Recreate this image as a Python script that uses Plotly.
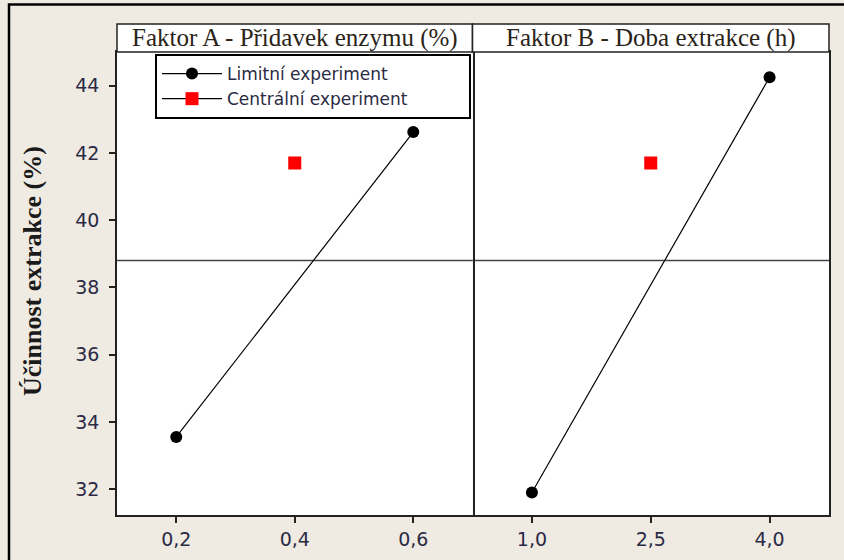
import plotly.graph_objects as go

# ---- data ----
a_levels = [0.2, 0.6]
a_means = [33.55, 42.62]
a_center = [0.4]
a_center_mean = [41.7]
b_levels = [1.0, 4.0]
b_means = [31.9, 44.25]
b_center = [2.5]
b_center_mean = [41.7]
overall_mean = 38.8
a_ticks = [0.2, 0.4, 0.6]
b_ticks = [1.0, 2.5, 4.0]
y_ticks = [32, 34, 36, 38, 40, 42, 44]
header_a = "Faktor A - Přidavek enzymu (%)"
header_b = "Faktor B - Doba extrakce (h)"
y_title = "Účinnost extrakce (%)"
name_lim = "Limitní experiment"
name_cen = "Centrální experiment"

W, H = 844, 560
def px(x): return x / W
def py(y): return 1 - y / H

L, M, R = 117, 472.5, 829
T, B = 52, 515
HT = 24

BG = "#EFEBE3"
AX = "#222222"
TICKC = "#2a2a44"
PAD = "\u00a0" * 10

fig = go.Figure()
fig.add_trace(go.Scatter(x=a_levels, y=a_means, mode="lines+markers", name=name_lim + PAD + "\u00a0" * 4,
                         line=dict(color="black", width=1.2),
                         marker=dict(color="black", size=12, symbol="circle"),
                         xaxis="x", yaxis="y", legendrank=1))
fig.add_trace(go.Scatter(x=a_center, y=a_center_mean, mode="lines+markers", name=name_cen + PAD,
                         line=dict(color="black", width=1.2),
                         marker=dict(color="#FF0000", size=13, symbol="square"),
                         xaxis="x", yaxis="y", legendrank=2))
fig.add_trace(go.Scatter(x=b_levels, y=b_means, mode="lines+markers", showlegend=False,
                         line=dict(color="black", width=1.2),
                         marker=dict(color="black", size=12, symbol="circle"),
                         xaxis="x2", yaxis="y2"))
fig.add_trace(go.Scatter(x=b_center, y=b_center_mean, mode="markers", showlegend=False,
                         marker=dict(color="#FF0000", size=13, symbol="square"),
                         xaxis="x2", yaxis="y2"))

axis_common = dict(showline=True, linecolor=AX, linewidth=1.5, mirror=True,
                   showgrid=False, zeroline=False, ticks="outside", ticklen=6,
                   tickwidth=1.5, tickcolor=AX,
                   tickfont=dict(family="DejaVu Sans", size=19, color=TICKC))

fig.update_layout(
    width=W, height=H, margin=dict(l=0, r=0, t=0, b=0),
    paper_bgcolor=BG, plot_bgcolor="white",
    separators=", ",
    xaxis=dict(domain=[px(L), px(M)], range=[0.1, 0.7], tickvals=a_ticks,
               tickformat=".1f", anchor="y", **axis_common),
    xaxis2=dict(domain=[px(M), px(R)], range=[0.25, 4.75], tickvals=b_ticks,
                tickformat=".1f", anchor="y2", **axis_common),
    yaxis=dict(domain=[py(B), py(T)], range=[31.23, 45.0], tickvals=y_ticks,
               anchor="x", ticklabelstandoff=6, **axis_common),
    yaxis2=dict(domain=[py(B), py(T)], matches="y", anchor="x2", side="right",
                showline=True, linecolor=AX, linewidth=1.5, mirror=False,
                showgrid=False, zeroline=False, showticklabels=False, ticks=""),
    showlegend=True,
    legend=dict(x=px(155), y=py(54), xanchor="left", yanchor="top",
                bgcolor="white", bordercolor="black", borderwidth=2,
                font=dict(family="DejaVu Sans", size=17, color="#2a2a44"),
                itemwidth=60, tracegroupgap=0),
)

# reference (overall mean) lines
for xr, yr in (("x domain", "y"), ("x2 domain", "y2")):
    fig.add_shape(type="line", xref=xr, yref=yr, x0=0, x1=1, y0=overall_mean, y1=overall_mean,
                  line=dict(color="#444444", width=1.5), layer="below")

# strip headers
for (x0, x1, txt) in ((L, M, header_a), (M, R, header_b)):
    fig.add_shape(type="rect", xref="paper", yref="paper", x0=px(x0), x1=px(x1),
                  y0=py(T), y1=py(HT), fillcolor="white", line=dict(color=AX, width=1.5))
    fig.add_annotation(x=px((x0 + x1) / 2), y=py((T + HT) / 2), xref="paper", yref="paper",
                       text=txt, showarrow=False, xanchor="center", yanchor="middle",
                       font=dict(family="Liberation Serif", size=25, color="#2b2418"))

# y title
fig.add_annotation(x=px(32), y=py(271), xref="paper", yref="paper", text="<b>" + y_title + "</b>",
                   textangle=-90, showarrow=False, xanchor="center", yanchor="middle",
                   font=dict(family="Liberation Serif", size=26, color="#1a1a1a"))

# outer frame
fig.add_shape(type="rect", xref="paper", yref="paper", x0=px(9), x1=1.05, y0=-0.05, y1=py(4.5),
              line=dict(color="black", width=2.5))

fig.write_html("out.html")
